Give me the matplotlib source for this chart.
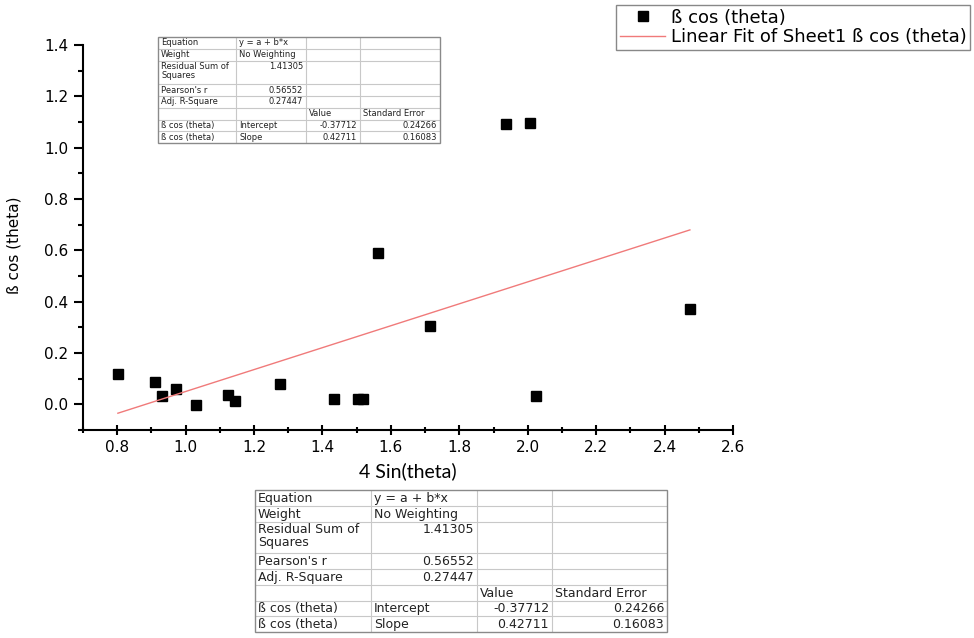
import numpy as np
import matplotlib
matplotlib.use("Agg")
import matplotlib.pyplot as plt
from matplotlib.ticker import MultipleLocator
from matplotlib.patches import Rectangle

# data
x_sin = [0.802, 0.910, 0.930, 0.972, 1.030, 1.123, 1.143, 1.277, 1.433, 1.504,
         1.517, 1.563, 1.715, 1.936, 2.006, 2.025, 2.474]
y_cos = [0.120, 0.087, 0.031, 0.059, -0.003, 0.036, 0.014, 0.078, 0.020, 0.020,
         0.021, 0.590, 0.305, 1.091, 1.096, 0.031, 0.373]

fit_intercept = -0.37712
fit_slope = 0.42711

stat_labels = ["Equation", "Weight", "Residual Sum of\nSquares", "Pearson's r",
               "Adj. R-Square", "", "ß cos (theta)", "ß cos (theta)"]
stat_values = ["y = a + b*x", "No Weighting", "1.41305", "0.56552", "0.27447",
               "", "Intercept", "Slope"]
param_values = ["", "", "", "", "", "Value", "-0.37712", "0.42711"]
param_errors = ["", "", "", "", "", "Standard Error", "0.24266", "0.16083"]

# layout of the fit tables
row_units = [1, 1, 2, 1, 1, 1, 1, 1]


def is_number(s):
    try:
        float(s)
        return True
    except ValueError:
        return False


def draw_table(fig, left_px, top_px, col_px, unit_px, fontsize):
    W, H = 974, 638
    width = sum(col_px)
    height = sum(row_units) * unit_px
    tax = fig.add_axes([left_px / W, 1 - (top_px + height) / H, width / W, height / H])
    tax.set_xlim(0, width)
    tax.set_ylim(height, 0)
    tax.axis("off")
    tax.add_patch(Rectangle((0, 0), width, height, fc="white", ec="none", zorder=0))

    col_edges = np.concatenate([[0], np.cumsum(col_px)])
    row_edges = np.concatenate([[0], np.cumsum(row_units)]) * unit_px
    for y in row_edges[1:-1]:
        tax.plot([0, width], [y, y], color="#c8c8c8", lw=0.8, zorder=1)
    for x in col_edges[1:-1]:
        tax.plot([x, x], [0, height], color="#c8c8c8", lw=0.8, zorder=1)
    tax.add_patch(Rectangle((0, 0), width, height, fc="none", ec="#8a8a8a", lw=1.0,
                            zorder=2, clip_on=False))

    columns = [stat_labels, stat_values, param_values, param_errors]
    for c, col in enumerate(columns):
        for r, txt in enumerate(col):
            if not txt:
                continue
            y = row_edges[r] + unit_px * 0.12
            if is_number(txt):
                tax.text(col_edges[c + 1] - 3, y, txt, ha="right", va="top",
                         fontsize=fontsize, linespacing=1.0, color="#222222")
            else:
                tax.text(col_edges[c] + 3, y, txt, ha="left", va="top",
                         fontsize=fontsize, linespacing=1.0, color="#222222")


fig = plt.figure(figsize=(9.74, 6.38), dpi=100)
ax = fig.add_axes([83 / 974, 1 - 430 / 638, 650 / 974, 385 / 638])

ax.plot(x_sin, y_cos, "s", color="black", markersize=7.5, label="ß cos (theta)")
fit_x = np.array([min(x_sin), max(x_sin)])
fit_y = fit_intercept + fit_slope * fit_x
ax.plot(fit_x, fit_y, color="#f07a7a", lw=1.0,
        label="Linear Fit of Sheet1 ß cos (theta)")

ax.set_xlim(0.7, 2.6)
ax.set_ylim(-0.1, 1.4)
ax.xaxis.set_major_locator(MultipleLocator(0.2))
ax.xaxis.set_minor_locator(MultipleLocator(0.1))
ax.yaxis.set_major_locator(MultipleLocator(0.2))
ax.yaxis.set_minor_locator(MultipleLocator(0.1))
ax.xaxis.set_major_formatter(plt.FormatStrFormatter("%.1f"))
ax.yaxis.set_major_formatter(plt.FormatStrFormatter("%.1f"))

for side in ["top", "right"]:
    ax.spines[side].set_visible(False)
for side in ["left", "bottom"]:
    ax.spines[side].set_linewidth(1.5)

ax.tick_params(axis="y", which="major", direction="out", length=6.5, width=1.5,
               labelsize=11, pad=4)
ax.tick_params(axis="y", which="minor", direction="out", length=3.5, width=1.5)
ax.tick_params(axis="x", which="major", direction="inout", length=7, width=1.5,
               labelsize=11, pad=4)
ax.tick_params(axis="x", which="minor", direction="inout", length=5, width=1.5)

ax.set_ylabel("ß cos (theta)", fontsize=11)
ax.yaxis.set_label_coords(-0.094, 0.48)
ax.set_xlabel("4 Sin(theta)", fontsize=14, family="Lato")
ax.xaxis.set_label_coords(0.5, -0.085)

leg = fig.legend(loc="upper right", bbox_to_anchor=(970 / 974, 1 - 5 / 638),
                 bbox_transform=fig.transFigure, fontsize=13, numpoints=1,
                 fancybox=False, edgecolor="#888888", framealpha=1,
                 handlelength=2.5, handletextpad=0.3, labelspacing=0.1,
                 borderpad=0.2, borderaxespad=0)
leg.get_frame().set_linewidth(1.0)

# fit result tables: one inside the plot, one below
draw_table(fig, 158, 37, [78, 70, 54, 80], 11.8, 6)
draw_table(fig, 255, 490, [116, 106, 75, 115], 15.8, 9)

fig.savefig("out.png", dpi=100)
